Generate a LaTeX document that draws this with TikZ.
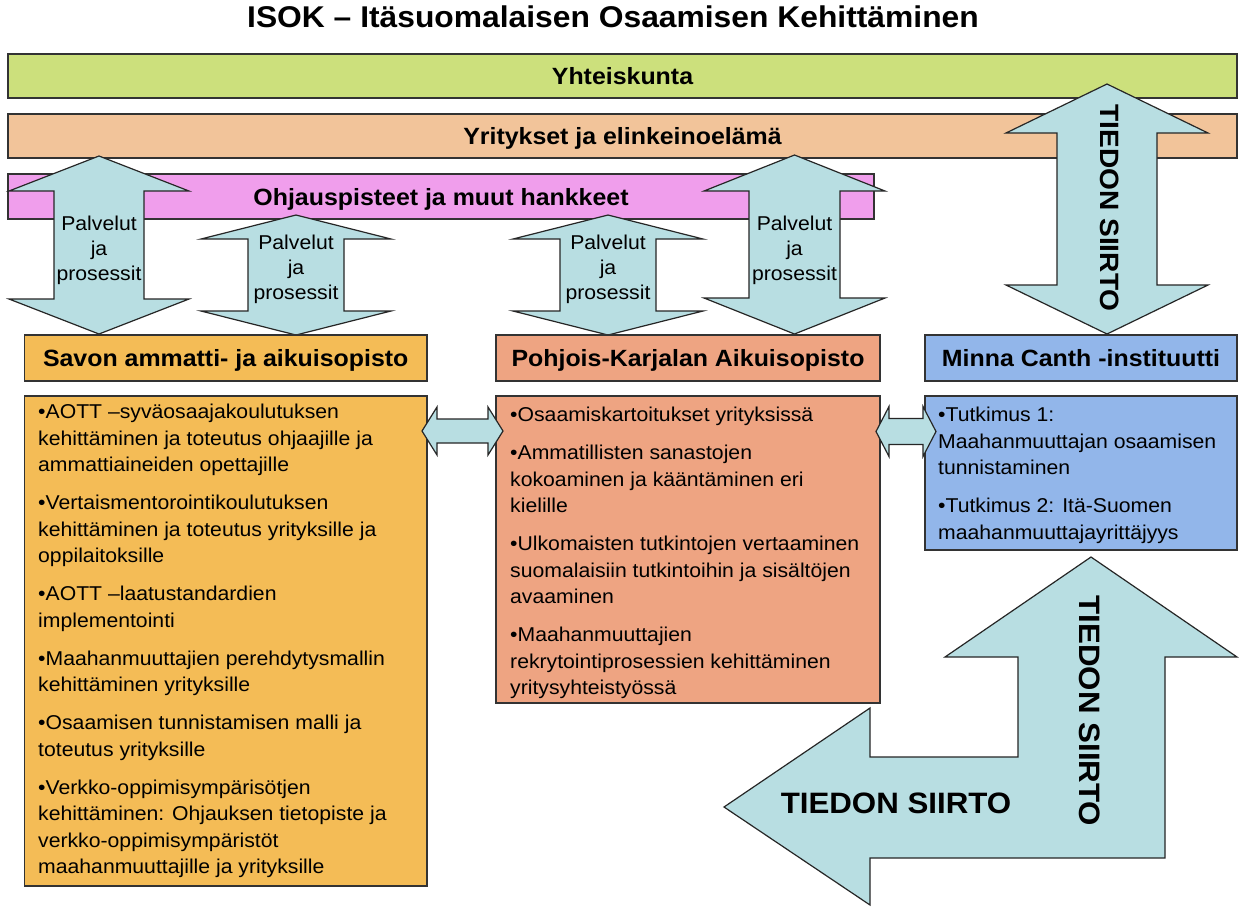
\documentclass[tikz,border=0pt]{standalone}
\usepackage{fontspec}
\setmainfont{Liberation Sans}[FakeStretch=1.06]
\definecolor{greenc}{RGB}{204,224,124}
\definecolor{orangec}{RGB}{242,196,154}
\definecolor{pinkc}{RGB}{240,158,236}
\definecolor{arrowc}{RGB}{184,222,226}
\definecolor{savc}{RGB}{244,188,86}
\definecolor{pkc}{RGB}{238,164,130}
\definecolor{mcc}{RGB}{146,182,234}
\newcommand\vdarrow[6]{% cx, top, bottom, head length, head half width, shaft half width
  \draw[blockarrow] (#1,#2) -- ({#1+#5},{#2+#4}) -- ({#1+#6},{#2+#4}) -- ({#1+#6},{#3-#4}) -- ({#1+#5},{#3-#4}) -- (#1,#3) -- ({#1-#5},{#3-#4}) -- ({#1-#6},{#3-#4}) -- ({#1-#6},{#2+#4}) -- ({#1-#5},{#2+#4}) -- cycle;}
\newcommand\hdarrow[6]{% cy, left, right, head length, head half height, shaft half height
  \draw[blockarrow] (#2,#1) -- ({#2+#4},{#1-#5}) -- ({#2+#4},{#1-#6}) -- ({#3-#4},{#1-#6}) -- ({#3-#4},{#1-#5}) -- (#3,#1) -- ({#3-#4},{#1+#5}) -- ({#3-#4},{#1+#6}) -- ({#2+#4},{#1+#6}) -- ({#2+#4},{#1+#5}) -- cycle;}
\begin{document}
\begin{tikzpicture}[x=1pt,y=-1pt,
  box/.style={draw=black!80, line width=1.2pt, inner sep=0pt},
  barsty/.style={box, font=\fontsize{23.5}{28}\selectfont\bfseries, text height=17pt, text depth=0pt},
  hdr/.style={box, font=\fontsize{23.5}{28}\selectfont\bfseries, text height=17pt, text depth=0pt},
  blockarrow/.style={draw=black!85, line width=1.2pt, fill=arrowc, line join=miter},
  body/.style={anchor=north west, align=left, inner sep=0pt, font=\fontsize{20}{26.5}\selectfont},
  alabel/.style={align=center, inner sep=0pt, font=\fontsize{20}{25}\selectfont},
  tiedon/.style={inner sep=0pt, font=\bfseries}]
\useasboundingbox (0,0) rectangle (1239,906);
\fill[white] (0,0) rectangle (1239,906);

% title
\node[inner sep=0pt, font=\fontsize{30}{34}\selectfont\bfseries, anchor=base] (title) at (613,27) {ISOK – Itäsuomalaisen Osaamisen Kehittäminen};

% bars
\node[barsty, fill=greenc, minimum width=1229pt, minimum height=44pt] (yht) at (622.5,76) {Yhteiskunta};
\node[barsty, fill=orangec, minimum width=1229pt, minimum height=44pt] (yri) at (622.5,136) {Yritykset ja elinkeinoelämä};
\node[barsty, fill=pinkc, minimum width=866pt, minimum height=45pt] (ohj) at (441,196.5) {Ohjauspisteet ja muut hankkeet};

% vertical double arrows
\vdarrow{99}{156}{334}{35}{90}{45}
\vdarrow{296}{215}{335}{24}{95}{48}
\vdarrow{608}{215}{335}{24}{95}{48}
\vdarrow{794.5}{155}{334}{36}{90.5}{45.5}
\vdarrow{1107}{84}{334}{49}{101}{50}

\node[alabel] (l1) at (99,250) {Palvelut\\ja\\prosessit};
\node[alabel] (l2) at (296,269) {Palvelut\\ja\\prosessit};
\node[alabel] (l3) at (608,269) {Palvelut\\ja\\prosessit};
\node[alabel] (l4) at (794.5,250) {Palvelut\\ja\\prosessit};
\node[tiedon, font=\fontsize{26.5}{30}\selectfont\bfseries, rotate=-90] (t1) at (1110,208) {TIEDON SIIRTO};

% headers
\node[hdr, fill=savc, minimum width=402.5pt, minimum height=46pt] (savh) at (225.75,358) {Savon ammatti- ja aikuisopisto};
\node[hdr, fill=pkc, minimum width=384pt, minimum height=46pt] (pkh) at (688,358) {Pohjois-Karjalan Aikuisopisto};
\node[hdr, fill=mcc, minimum width=312pt, minimum height=46pt] (mch) at (1081,358) {Minna Canth -instituutti};

% content boxes
\node[box, fill=savc, minimum width=402.5pt, minimum height=490pt] (savb) at (225.75,641) {};
\node[box, fill=pkc, minimum width=384pt, minimum height=307pt] (pkb) at (688,549.5) {};
\node[box, fill=mcc, minimum width=312pt, minimum height=154pt] (mcb) at (1081,473) {};

\node[body] (savt) at (38,404) {•AOTT –syväosaajakoulutuksen\\
kehittäminen ja toteutus ohjaajille ja\\
ammattiaineiden opettajille\\[11.5pt]
•Vertaismentorointikoulutuksen\\
kehittäminen ja toteutus yrityksille ja\\
oppilaitoksille\\[11.5pt]
•AOTT –laatustandardien\\
implementointi\\[11.5pt]
•Maahanmuuttajien perehdytysmallin\\
kehittäminen yrityksille\\[11.5pt]
•Osaamisen tunnistamisen malli ja\\
toteutus yrityksille\\[11.5pt]
•Verkko-oppimisympärisötjen\\
kehittäminen: Ohjauksen tietopiste ja\\
verkko-oppimisympäristöt\\
maahanmuuttajille ja yrityksille};

\node[body] (pkt) at (510,407) {•Osaamiskartoitukset yrityksissä\\[11.5pt]
•Ammatillisten sanastojen\\
kokoaminen ja kääntäminen eri\\
kielille\\[11.5pt]
•Ulkomaisten tutkintojen vertaaminen\\
suomalaisiin tutkintoihin ja sisältöjen\\
avaaminen\\[11.5pt]
•Maahanmuuttajien\\
rekrytointiprosessien kehittäminen\\
yritysyhteistyössä};

\node[body] (mct) at (938,407) {•Tutkimus 1:\\
Maahanmuuttajan osaamisen\\
tunnistaminen\\[11.5pt]
•Tutkimus 2: Itä-Suomen\\
maahanmuuttajayrittäjyys};

% horizontal double arrows
\hdarrow{431}{422}{503}{15}{24}{12}
\hdarrow{431.5}{876}{936}{13}{25}{13}

% bent arrow
\draw[blockarrow] (724,807) -- (870,708) -- (870,757) -- (1018,757) -- (1018,657) -- (945,657) -- (1091,557) -- (1237,657) -- (1165,657) -- (1165,858) -- (870,858) -- (870,905) -- cycle;
\node[tiedon, font=\fontsize{29.5}{33}\selectfont\bfseries] (t2) at (896,803) {TIEDON SIIRTO};
\node[tiedon, font=\fontsize{29.5}{33}\selectfont\bfseries, rotate=-90] (t3) at (1090,711) {TIEDON SIIRTO};
\end{tikzpicture}
\end{document}
